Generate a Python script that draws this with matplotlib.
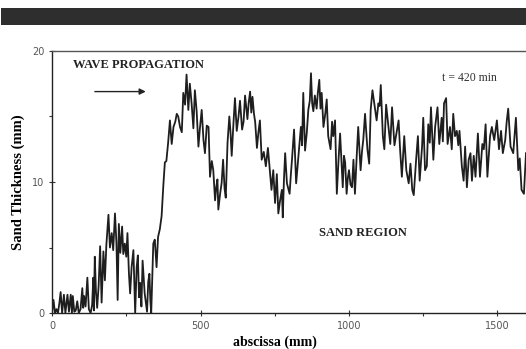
import matplotlib.pyplot as plt
import numpy as np

# abscissa (mm) and sand thickness (mm) (peaks / troughs)
x_mm = [0, 5, 10, 15, 20, 25, 29, 34, 40, 45, 52, 57, 63, 67, 70, 75, 80, 85, 90,
        96, 102, 105, 108, 113, 119, 124, 130, 135, 139, 141, 144, 148, 152, 157, 162,
        167, 173, 178, 183, 190, 195, 201, 206, 212, 217, 221, 225, 230, 236, 240,
        245, 250, 254, 259, 263, 268, 274, 280, 285, 289, 293, 297, 301, 305, 312,
        320, 324, 328, 331, 334, 341, 346, 352, 357, 363, 369, 375, 380, 385, 391,
        397, 403, 409, 415, 420, 425, 431, 437, 442, 448, 453, 459, 464, 470, 476,
        481, 487, 493, 498, 504, 510, 515, 521, 527, 532, 538, 543, 549, 553, 557,
        560, 566, 571, 576, 581, 585, 591, 597, 601, 605, 611, 616, 622, 628, 633,
        640, 645, 650, 658, 662, 667, 671, 675, 680, 684, 690, 695, 700, 706, 713,
        720, 727, 733, 739, 745, 751, 757, 762, 768, 774, 777, 781, 785, 791, 800,
        804, 808, 815, 822, 826, 830, 838, 842, 846, 852, 858, 863, 868, 872, 876,
        880, 885, 891, 895, 900, 904, 908, 914, 920, 925, 930, 938, 943, 947, 953,
        959, 965, 970, 979, 983, 987, 992, 996, 1000, 1005, 1010, 1015, 1020, 1026,
        1031, 1039, 1044, 1048, 1054, 1062, 1068, 1073, 1079, 1085, 1093, 1099,
        1103, 1107, 1114, 1119, 1125, 1133, 1139, 1145, 1153, 1161, 1167, 1172,
        1178, 1186, 1193, 1201, 1207, 1213, 1218, 1226, 1232, 1238, 1246, 1250,
        1256, 1262, 1267, 1272, 1276, 1284, 1290, 1298, 1304, 1312, 1316, 1320,
        1327, 1332, 1340, 1346, 1351, 1357, 1363, 1368, 1372, 1380, 1386, 1391,
        1397, 1403, 1409, 1414, 1420, 1426, 1434, 1441, 1449, 1454, 1460, 1466,
        1475, 1481, 1489, 1498, 1505, 1512, 1518, 1526, 1531, 1536, 1544, 1553,
        1562, 1570, 1575, 1581, 1589, 1596]
thick_mm = [0.0, 1.0, 0.0, 0.3, 0.0, 0.8, 1.6, 0.0, 1.4, 0.0, 1.4, 0.1, 1.4, 0.0,
            1.3, 0.1, 0.2, 0.9, 0.0, 0.3, 1.9, 0.4, 1.3, 0.5, 2.7, 0.3, 0.0, 0.6,
            2.7, 0.2, 4.3, 1.6, 0.4, 2.1, 5.1, 0.8, 4.7, 2.5, 5.2, 7.5, 5.0, 6.1,
            4.8, 7.6, 5.3, 1.0, 6.8, 4.6, 6.6, 4.5, 5.3, 4.3, 6.1, 3.0, 1.5, 3.5,
            4.8, 0.0, 3.5, 4.4, 1.2, 2.3, 0.5, 4.0, 1.5, 0.1, 2.4, 3.0, 1.0, 0.0,
            5.3, 5.6, 3.5, 5.8, 6.4, 7.4, 9.8, 11.5, 11.6, 13.0, 14.7, 12.9, 14.2,
            14.6, 15.2, 15.0, 14.2, 13.8, 16.8, 15.9, 18.2, 15.5, 17.5, 16.0, 14.1,
            17.0, 15.4, 12.7, 14.1, 15.5, 13.2, 12.2, 14.3, 14.2, 10.4, 11.6, 10.9,
            8.6, 9.6, 10.2, 7.9, 9.1, 9.9, 11.7, 9.5, 8.8, 13.0, 15.0, 13.8, 12.0,
            14.5, 16.4, 13.9, 15.0, 16.2, 14.0, 14.6, 16.6, 14.8, 16.0, 16.9, 15.3,
            16.5, 15.2, 14.6, 12.6, 13.8, 14.7, 11.7, 12.3, 11.2, 12.6, 11.0, 9.4,
            10.9, 8.4, 10.6, 7.6, 8.6, 9.4, 7.3, 10.2, 12.2, 9.9, 9.1, 10.5, 11.7,
            14.0, 9.9, 11.0, 12.2, 14.2, 12.8, 16.8, 12.4, 13.8, 15.5, 16.2, 18.3,
            16.0, 15.4, 16.6, 15.6, 16.8, 17.8, 15.6, 16.8, 14.2, 15.2, 16.3, 13.5,
            12.5, 14.6, 13.5, 14.7, 9.1, 11.8, 13.7, 9.6, 12.0, 11.5, 9.1, 10.3,
            10.9, 9.8, 9.6, 11.7, 9.1, 12.0, 14.2, 10.9, 12.4, 13.2, 15.2, 12.5,
            11.4, 15.5, 17.0, 16.0, 14.7, 16.0, 15.8, 17.4, 13.5, 12.5, 15.9, 14.2,
            12.9, 15.7, 12.8, 13.9, 14.7, 12.5, 10.4, 13.5, 10.9, 9.9, 11.4, 9.4,
            9.0, 11.7, 13.5, 10.1, 12.7, 14.9, 10.9, 11.2, 14.4, 13.0, 15.7, 11.7,
            14.2, 15.7, 12.9, 14.9, 13.1, 16.0, 16.4, 12.9, 14.2, 12.5, 15.2, 13.5,
            13.9, 12.8, 13.9, 11.2, 10.1, 12.7, 9.6, 11.7, 12.2, 10.1, 12.0, 10.4,
            13.7, 10.4, 12.9, 12.5, 14.4, 10.4, 13.5, 14.2, 13.2, 14.7, 12.5, 13.9,
            12.2, 13.2, 14.6, 15.6, 12.7, 12.2, 14.9, 10.9, 11.8, 9.4, 9.1, 12.2]

fig = plt.figure(figsize=(5.26, 3.49), dpi=100)
# dark band across the top of the scanned page
fig.patches.append(plt.Rectangle((0.002, 0.928), 0.998, 0.049, transform=fig.transFigure,
                                 facecolor="#2e2e2e", edgecolor="none"))

ax = fig.add_axes([0.0989, 0.103, 0.9011, 0.751])
ax.plot(x_mm, thick_mm, color="#1e1e1e", lw=1.3)
ax.set_xlim(0, 1596)
ax.set_ylim(0, 20)

ax.spines["right"].set_visible(False)
ax.spines["top"].set_color("#555555")
ax.spines["top"].set_linewidth(1.0)
for s in ["left", "bottom"]:
    ax.spines[s].set_color("#222222")
    ax.spines[s].set_linewidth(1.0)

ax.set_xticks([0, 500, 1000, 1500])
ax.set_xticks([250, 750, 1250], minor=True)
ax.set_yticks([0, 10, 20])
ax.set_yticks([5, 15], minor=True)
ax.tick_params(axis="both", which="major", length=4, width=0.8, color="#333333",
               labelsize=7, labelcolor="#555555", direction="inout")
ax.tick_params(axis="both", which="minor", length=2, width=0.8, color="#333333")
ax.tick_params(axis="x", pad=4)

serif = ["Liberation Serif", "DejaVu Serif"]
ax.set_xlabel("abscissa (mm)", family=serif, fontweight="bold", fontsize=10, labelpad=2)
ax.xaxis.set_label_coords(0.47, -0.085)
ax.set_ylabel("Sand Thickness (mm)", family=serif, fontweight="bold", fontsize=10.5)
ax.yaxis.set_label_coords(-0.057, 0.5)

ax.text(71, 18.9, "WAVE PROPAGATION", family=serif, fontweight="bold", fontsize=9,
        va="center", ha="left", color="#222222")
ax.annotate("", xy=(325, 16.9), xytext=(135, 16.9),
            arrowprops=dict(arrowstyle="-|>", color="#222222", lw=1.0, mutation_scale=9))
ax.text(1313, 17.9, "t = 420 min", family=serif, fontsize=8.5, va="center", ha="left",
        color="#333333")
ax.text(899, 6.1, "SAND REGION", family=serif, fontweight="bold", fontsize=9,
        va="center", ha="left", color="#222222")

fig.savefig("out.png", dpi=100)
